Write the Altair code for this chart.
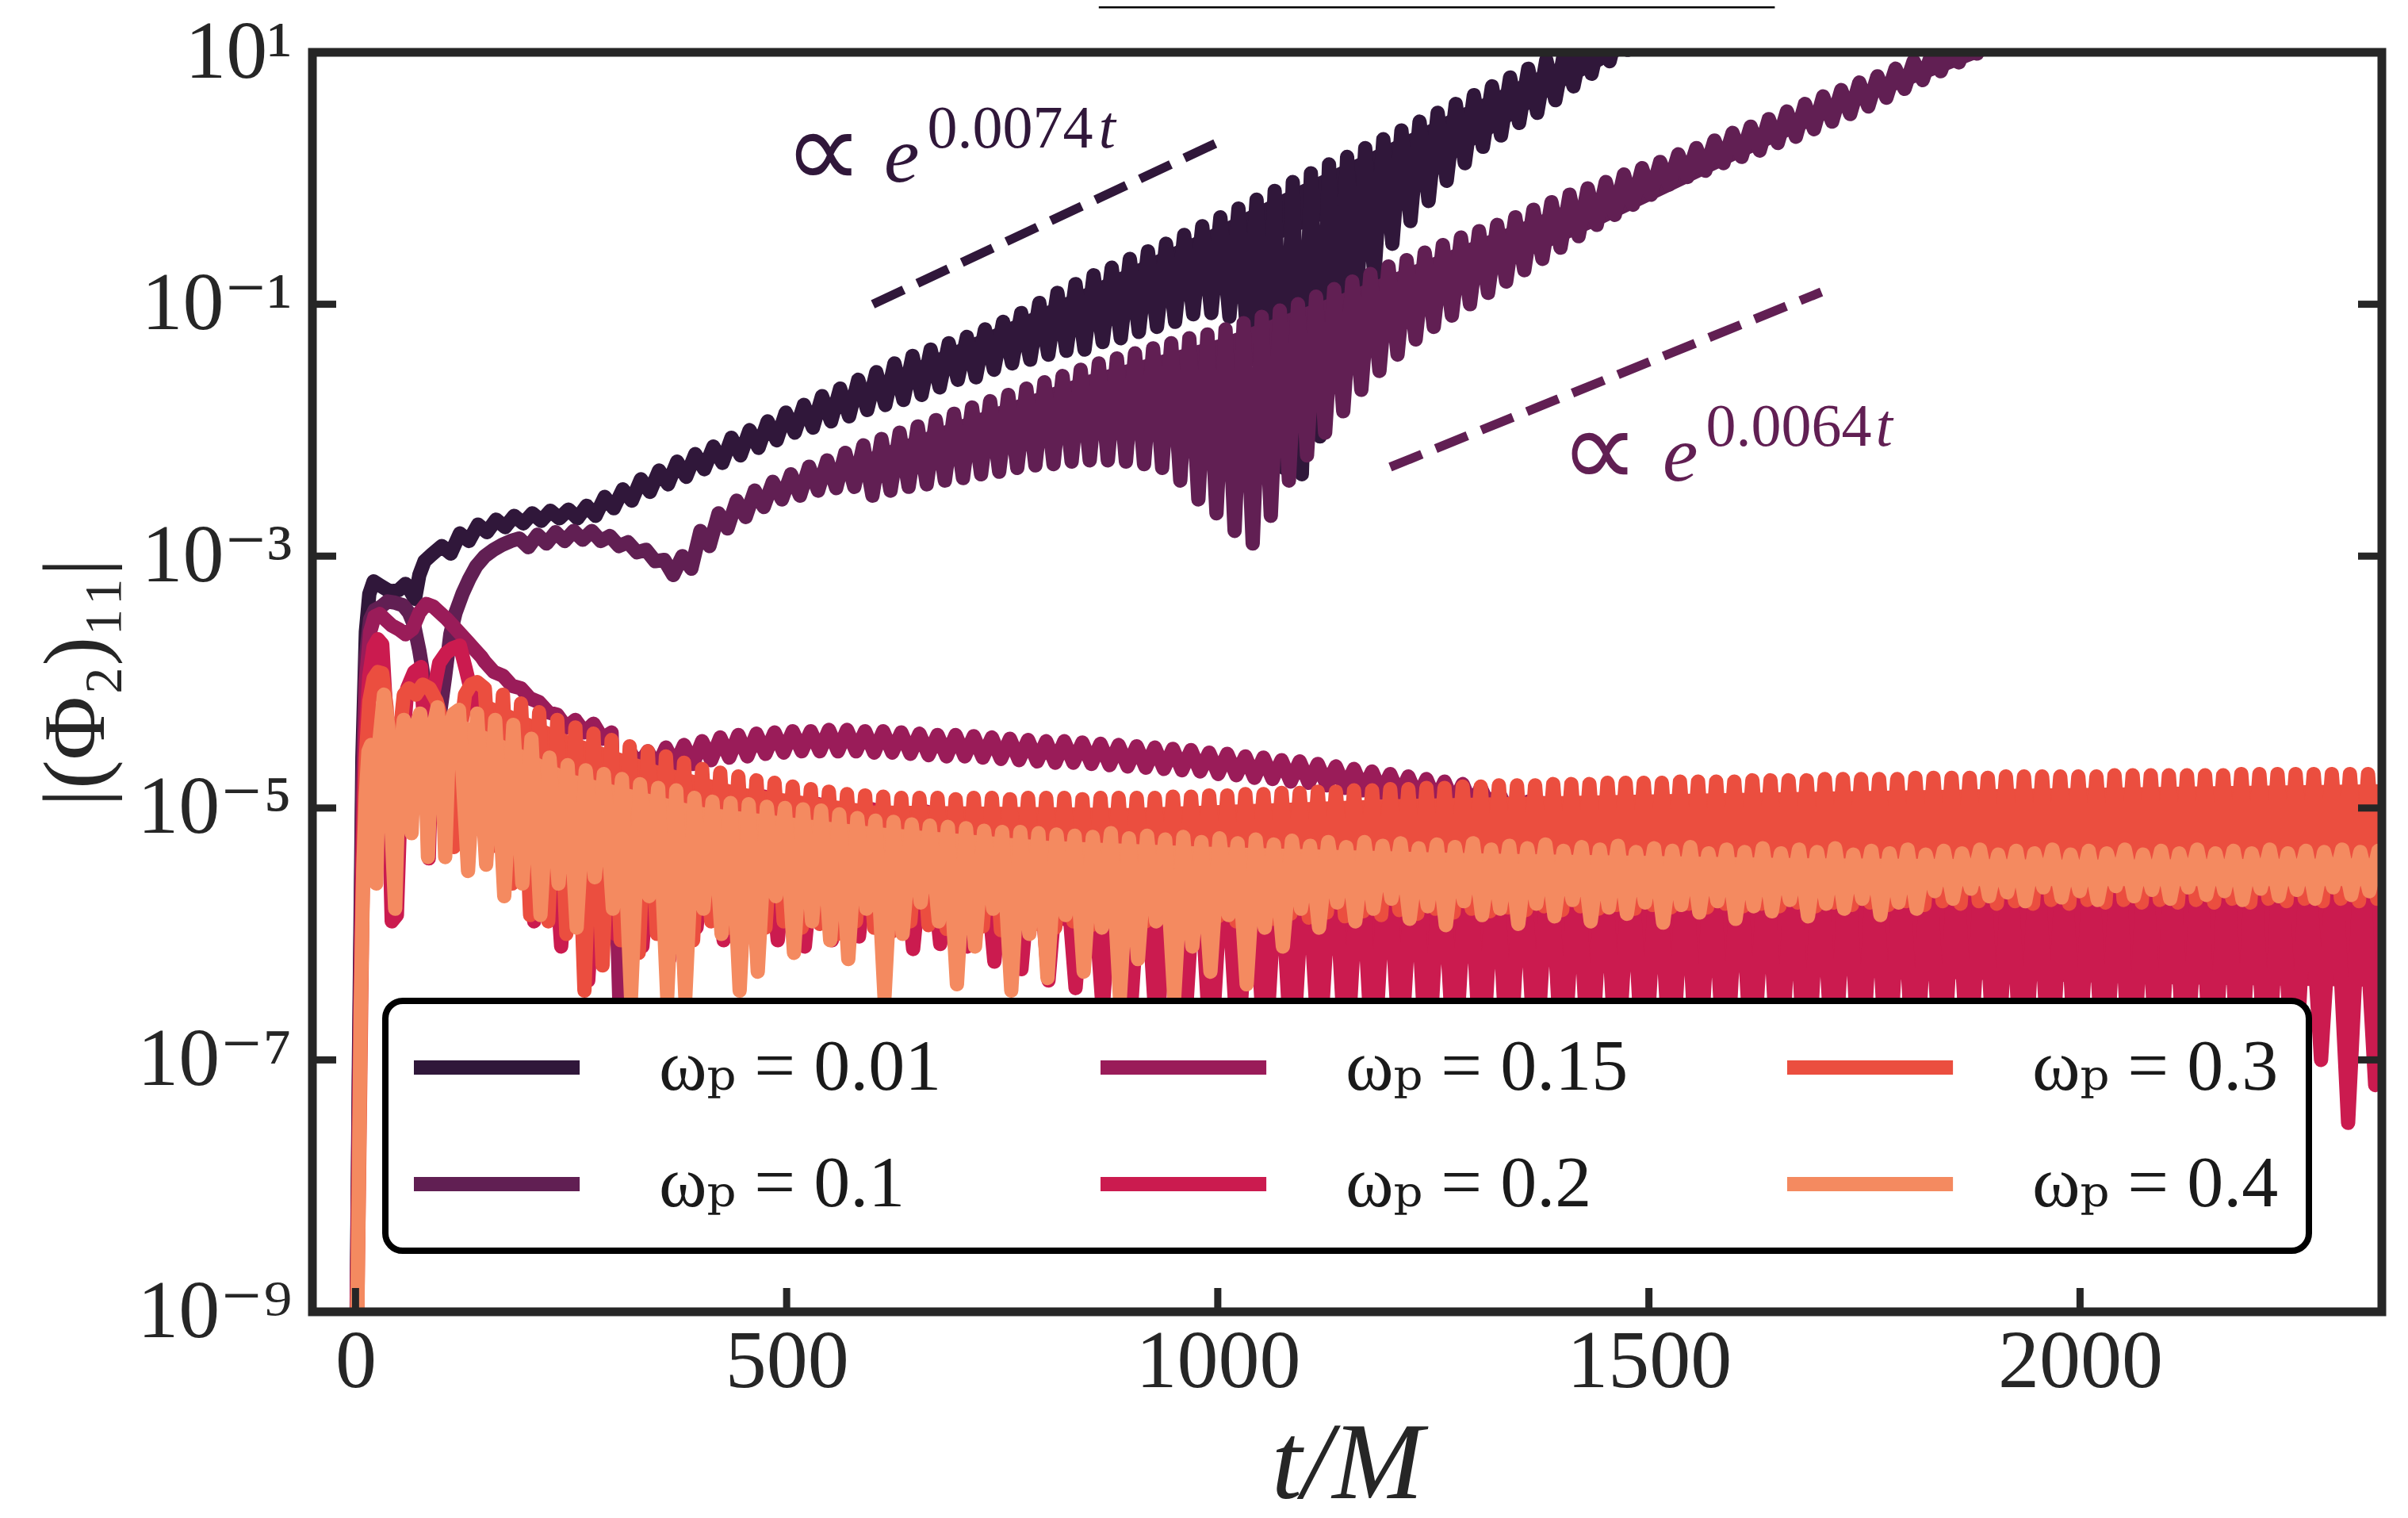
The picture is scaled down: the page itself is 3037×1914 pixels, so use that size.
import math
import altair as alt
import pandas as pd

# ---------------- layout / styling constants ----------------
W, H = 2610, 1588
SERIF = "Liberation Serif, DejaVu Serif, serif"
INK = "#262626"

# ---------------- axes ----------------
X_DOMAIN = [-50, 2350]
Y_DOMAIN = [1e-9, 1e1]
X_TICKS = [0, 500, 1000, 1500, 2000]
Y_TICKS = [1e-9, 1e-7, 1e-5, 1e-3, 1e-1, 1e1]
Y_TICK_LABELS = ["10⁻⁹", "10⁻⁷", "10⁻⁵", "10⁻³", "10⁻¹", "10¹"]
X_TITLE = "t/M"
Y_TITLE = "|(Φ₂)₁₁|"

# ---------------- series ----------------
SERIES = ["ωₚ = 0.01", "ωₚ = 0.1", "ωₚ = 0.15", "ωₚ = 0.2", "ωₚ = 0.3", "ωₚ = 0.4"]
COLORS = ["#30173a", "#611f53", "#9a1c59", "#cb1b4f", "#eb4e3f", "#f48a60"]

# values are log10 |(Phi_2)_11|
# --- omega_p = 0.01 ---
S1_EARLY_T = [0, 4, 8, 12, 16, 21, 30, 40, 50, 58, 64, 69, 74, 80, 88]
S1_EARLY_V = [-10.0, -7.0, -4.6, -3.6, -3.3, -3.2, -3.24, -3.28, -3.27, -3.22, -3.28, -3.34, -3.15, -3.04, -2.99]
S1_T0, S1_P = 100, 21.0
S1_HI = [-2.92, -2.82, -2.75, -2.71, -2.68, -2.66, -2.64, -2.63, -2.60, -2.53,
         -2.47, -2.39, -2.32, -2.25, -2.19, -2.13, -2.06, -2.00, -1.93, -1.86,
         -1.80, -1.73, -1.67, -1.60, -1.54, -1.47, -1.41, -1.36, -1.31, -1.26,
         -1.20, -1.14, -1.07, -0.99, -0.91, -0.84, -0.77, -0.71, -0.64, -0.58,
         -0.52, -0.45, -0.38, -0.31, -0.24, -0.17, -0.10, -0.03, 0.04, 0.11,
         0.17, 0.24, 0.31, 0.38, 0.45, 0.52, 0.59, 0.66, 0.73, 0.80,
         0.87, 0.94, 1.01, 1.08, 1.15, 1.22, 1.29]
S1_LO = [-2.98, -2.88, -2.81, -2.77, -2.74, -2.72, -2.70, -2.70, -2.68, -2.62,
         -2.56, -2.49, -2.43, -2.37, -2.31, -2.26, -2.20, -2.14, -2.08, -2.02,
         -1.98, -1.93, -1.89, -1.84, -1.80, -1.76, -1.72, -1.66, -1.60, -1.58,
         -1.52, -1.47, -1.44, -1.40, -1.37, -1.36, -1.30, -1.27, -1.22, -1.18,
         -1.14, -1.08, -1.07, -1.10, -1.30, -1.70, -2.30, -2.35, -2.05, -1.55,
         -1.05, -0.78, -0.52, -0.34, -0.18, -0.02, 0.12, 0.25, 0.34, 0.44,
         0.52, 0.62, 0.73, 0.83, 0.93, 1.02, 1.11]
BODY1_T = [650, 800, 900, 1000, 1100, 1200, 1300, 1400, 1500]
BODY1_TOP = [-1.46, -1.02, -0.70, -0.38, -0.04, 0.28, 0.61, 0.94, 1.28]
BODY1_BOT = [-1.46, -1.30, -1.00, -0.70, -0.40, -0.10, 0.27, 0.72, 1.10]

# --- omega_p = 0.1 ---
S2_EARLY_T = [0, 4, 8, 12, 17, 22, 30, 37, 46, 55, 62, 68, 74, 80, 86, 92, 98, 104,
              110, 116, 124, 132, 140, 150, 160, 170, 180]
S2_EARLY_V = [-10.0, -7.2, -4.9, -3.8, -3.5, -3.43, -3.40, -3.36, -3.37, -3.39, -3.45, -3.55,
              -3.75, -4.0, -4.2, -4.33, -4.25, -3.95, -3.62, -3.45, -3.30, -3.18, -3.08,
              -3.0, -2.95, -2.91, -2.88]
S2_T0, S2_P = 190, 21.0
S2_HI = [-2.86, -2.83, -2.81, -2.80, -2.80, -2.84, -2.89, -2.95, -3.03, -3.00,
         -2.80, -2.66, -2.56, -2.48, -2.41, -2.35, -2.29, -2.24, -2.18, -2.12,
         -2.07, -2.02, -1.97, -1.92, -1.87, -1.82, -1.77, -1.72, -1.67, -1.62,
         -1.57, -1.52, -1.47, -1.43, -1.39, -1.35, -1.31, -1.27, -1.24, -1.20,
         -1.15, -1.10, -1.05, -1.00, -0.94, -0.88, -0.82, -0.76, -0.70, -0.65,
         -0.59, -0.53, -0.47, -0.42, -0.37, -0.31, -0.25, -0.19, -0.13, -0.08,
         -0.03, 0.03, 0.08, 0.13, 0.19, 0.24, 0.30, 0.36, 0.41, 0.47,
         0.53, 0.59, 0.65, 0.70, 0.76, 0.81, 0.87, 0.93, 0.99, 1.05,
         1.11, 1.17]
S2_LO = [-2.93, -2.90, -2.88, -2.87, -2.88, -2.92, -2.97, -3.04, -3.15, -3.10,
         -2.92, -2.78, -2.69, -2.61, -2.55, -2.52, -2.48, -2.46, -2.45, -2.52,
         -2.48, -2.45, -2.43, -2.40, -2.38, -2.35, -2.33, -2.30, -2.28, -2.27,
         -2.25, -2.24, -2.24, -2.25, -2.27, -2.30, -2.40, -2.55, -2.66, -2.80,
         -2.90, -2.68, -2.40, -2.20, -2.02, -1.85, -1.68, -1.53, -1.40, -1.28,
         -1.18, -1.09, -1.00, -0.91, -0.82, -0.73, -0.64, -0.55, -0.46, -0.37,
         -0.29, -0.21, -0.13, -0.05, 0.01, 0.06, 0.12, 0.17, 0.22, 0.28,
         0.33, 0.39, 0.45, 0.51, 0.57, 0.64, 0.71, 0.78, 0.85, 0.92,
         0.99, 1.06]
BODY2_T = [550, 700, 850, 1000, 1150, 1300, 1450, 1600, 1750, 1900]
BODY2_TOP = [-2.29, -1.92, -1.56, -1.28, -0.90, -0.49, -0.09, 0.31, 0.72, 1.13]
BODY2_BOT = [-2.29, -2.15, -1.85, -1.60, -1.20, -0.80, -0.35, 0.14, 0.60, 1.00]

# --- omega_p = 0.15 ---
S3_EARLY_T = [0, 4, 8, 12, 17, 22, 28, 34, 42, 50, 58, 66, 74, 82, 90, 98, 106, 114, 122, 130, 138, 146]
S3_EARLY_V = [-10.0, -7.5, -5.2, -4.0, -3.6, -3.48, -3.46, -3.50, -3.55, -3.58, -3.62, -3.58,
              -3.45, -3.38, -3.40, -3.45, -3.50, -3.56, -3.62, -3.68, -3.74, -3.80]
S3_T0, S3_P = 150, 21.0
S3_HI = [-3.84, -3.95, -4.05, -4.16, -4.26, -4.30, -4.33, -4.40, -4.55, -4.55,
         -4.52, -4.50, -4.47, -4.44, -4.42, -4.41, -4.40, -4.39, -4.39, -4.38,
         -4.38, -4.39, -4.39, -4.40, -4.41, -4.42, -4.42, -4.43, -4.44, -4.45,
         -4.46, -4.47, -4.47, -4.48, -4.49, -4.50, -4.51, -4.52, -4.53, -4.54,
         -4.56, -4.57, -4.59, -4.60, -4.62, -4.63, -4.65, -4.67, -4.69, -4.71,
         -4.73, -4.75, -4.77, -4.79, -4.81, -4.84, -4.88]
S3_LO = [-3.92, -4.03, -4.13, -4.24, -4.36, -4.40, -4.45, -6.90, -4.66, -4.68,
         -4.66, -4.65, -4.62, -4.60, -4.59, -4.57, -4.56, -4.55, -4.55, -4.55,
         -4.55, -4.56, -4.56, -4.57, -4.58, -4.59, -4.59, -4.60, -4.61, -4.62,
         -4.63, -4.64, -4.64, -4.65, -4.66, -4.67, -4.68, -4.69, -4.70, -4.71,
         -4.73, -4.74, -4.76, -4.77, -4.79, -4.80, -4.82, -4.84, -4.86, -4.88,
         -4.90, -4.92, -4.94, -4.96, -4.98, -5.00, -5.03]
S3_TAIL_T = [1360, 1600, 2000, 2350]
S3_TAIL_V = [-4.95, -5.10, -5.20, -5.25]

# --- omega_p = 0.2 ---
S4_EARLY_T = [0, 4, 8, 12, 16, 21, 26, 31, 36, 42, 48, 54, 60, 68, 76, 81, 85, 90, 97,
              105, 113, 121, 128, 135, 142, 148, 153]
S4_EARLY_V = [-10.0, -7.6, -5.4, -4.4, -3.95, -3.72, -3.66, -3.70, -4.3, -5.9, -5.85, -4.6,
              -4.05, -3.92, -3.88, -4.6, -5.4, -4.1, -3.85, -3.77, -3.73, -3.71, -3.9, -4.1,
              -4.3, -4.9, -5.17]
S4_T0, S4_P = 160, 31.4
S4_HI = [-4.30, -4.40, -4.50, -4.58, -4.64, -4.70, -4.75, -4.80, -4.84, -4.88,
         -4.91, -4.94, -4.97, -5.00, -5.01, -5.02, -5.03, -5.04, -5.05, -5.06,
         -5.07, -5.08, -5.09, -5.10, -5.11, -5.12, -5.13, -5.14, -5.15, -5.16,
         -5.17, -5.18, -5.19, -5.20, -5.21, -5.22, -5.23, -5.24, -5.25, -5.26,
         -5.27, -5.28, -5.29, -5.30, -5.30, -5.30, -5.30, -5.30, -5.30, -5.30,
         -5.30, -5.30, -5.30, -5.30, -5.30, -5.30, -5.30, -5.30, -5.30, -5.30,
         -5.30, -5.30, -5.30, -5.30, -5.30, -5.30, -5.30, -5.30, -5.30, -5.30,
         -5.30]
S4_LO = [-5.60, -5.90, -6.10, -6.37, -6.00, -6.10, -6.20, -5.95, -6.05, -6.00,
         -6.05, -6.10, -6.05, -6.02, -6.05, -6.12, -6.08, -6.10, -6.22, -6.28,
         -6.37, -6.43, -6.60, -6.75, -6.85, -6.90, -7.00, -6.95, -7.05, -7.10,
         -7.00, -7.10, -7.15, -7.05, -7.20, -7.10, -7.15, -7.25, -7.10, -7.20,
         -7.30, -7.15, -7.25, -7.20, -7.30, -7.25, -7.15, -7.30, -7.35, -7.20,
         -7.30, -7.25, -7.35, -7.30, -7.20, -7.35, -7.40, -7.25, -7.35, -7.30,
         -7.40, -7.35, -7.25, -7.40, -7.30, -7.35, -7.40, -7.00, -7.50, -7.20,
         -7.30]
BODY4_T = [160, 300, 450, 600, 750, 900, 1200, 1500, 1800, 2100, 2350]
BODY4_TOP = [-4.35, -4.68, -4.88, -5.02, -5.07, -5.12, -5.20, -5.28, -5.30, -5.30, -5.30]
BODY4_BOT = [-4.80, -5.30, -5.60, -5.80, -5.88, -6.00, -6.15, -6.28, -6.35, -6.40, -6.42]

# --- omega_p = 0.3 ---
S5_EARLY_T = [0, 4, 8, 12, 16, 21, 26, 31, 36, 41, 45, 50, 56, 62, 70, 78, 86, 94, 102,
              108, 114, 120, 127, 134, 141]
S5_EARLY_V = [-10.0, -8.0, -5.8, -4.6, -4.15, -3.97, -3.92, -3.93, -4.2, -4.9, -5.28, -4.5,
              -4.1, -4.05, -4.10, -4.02, -4.05, -4.15, -4.35, -4.8, -5.31, -4.5, -4.10,
              -4.02, -4.0]
S5_T0, S5_P = 150, 21.0
S5_HI = [-4.05, -4.10, -4.17, -4.24, -4.30, -4.36, -4.41, -4.46, -4.51, -4.55,
         -4.59, -4.64, -4.69, -4.72, -4.75, -4.78, -4.80, -4.83, -4.85, -4.87,
         -4.89, -4.90, -4.91, -4.92, -4.92, -4.92, -4.93, -4.92, -4.92, -4.93,
         -4.92, -4.92, -4.92, -4.93, -4.92, -4.92, -4.92, -4.92, -4.91, -4.91,
         -4.90, -4.90, -4.89, -4.89, -4.88, -4.88, -4.87, -4.87, -4.86, -4.86,
         -4.85, -4.85, -4.84, -4.84, -4.83, -4.83, -4.82, -4.82, -4.82, -4.81,
         -4.81, -4.81, -4.80, -4.80, -4.80, -4.80, -4.79, -4.79, -4.79, -4.79,
         -4.78, -4.78, -4.78, -4.78, -4.77, -4.77, -4.77, -4.77, -4.77, -4.76,
         -4.76, -4.76, -4.76, -4.76, -4.75, -4.75, -4.75, -4.75, -4.75, -4.75,
         -4.74, -4.74, -4.74, -4.74, -4.74, -4.74, -4.74, -4.73, -4.73, -4.73,
         -4.73, -4.73, -4.73, -4.73, -4.73]
S5_LO = [-5.30, -5.60, -5.85, -5.90, -6.00, -6.45, -6.25, -6.05, -6.15, -6.00,
         -5.95, -6.05, -5.90, -5.95, -6.00, -5.95, -5.90, -5.95, -5.92, -6.00,
         -5.90, -5.95, -5.98, -5.90, -5.93, -5.96, -5.90, -5.94, -5.97, -5.90,
         -5.92, -5.95, -5.90, -5.93, -5.88, -5.92, -5.90, -5.87, -5.91, -5.88,
         -5.86, -5.90, -5.85, -5.88, -5.84, -5.87, -5.83, -5.86, -5.82, -5.85,
         -5.81, -5.84, -5.80, -5.83, -5.80, -5.82, -5.79, -5.81, -5.78, -5.81,
         -5.78, -5.80, -5.77, -5.80, -5.77, -5.79, -5.76, -5.79, -5.76, -5.78,
         -5.76, -5.78, -5.75, -5.78, -5.75, -5.77, -5.75, -5.77, -5.74, -5.77,
         -5.74, -5.76, -5.74, -5.76, -5.74, -5.76, -5.73, -5.76, -5.73, -5.75,
         -5.73, -5.75, -5.73, -5.75, -5.73, -5.75, -5.72, -5.75, -5.72, -5.74,
         -5.72, -5.74, -5.72, -5.74, -5.72]
BODY5_T = [150, 250, 350, 450, 600, 900, 1200, 1600, 2000, 2350]
BODY5_TOP = [-4.13, -4.43, -4.66, -4.84, -4.98, -5.00, -4.93, -4.88, -4.84, -4.81]
BODY5_BOT = [-4.50, -5.00, -5.30, -5.45, -5.60, -5.60, -5.60, -5.60, -5.60, -5.60]

# --- omega_p = 0.4 ---
S6_EARLY_T = [0, 3, 6, 9, 12, 15, 18, 21, 24, 28, 33, 38, 42, 46, 51, 56, 61, 65, 70, 75,
              80, 84, 89, 95, 100, 104, 109, 114]
S6_EARLY_V = [-10.5, -8.5, -6.6, -5.5, -4.9, -4.55, -4.5, -4.75, -5.6, -4.45, -4.10, -4.35,
              -5.2, -5.80, -4.6, -4.30, -4.45, -5.2, -4.35, -4.25, -4.5, -5.39, -4.4, -4.2,
              -4.6, -5.39, -4.35, -4.25]
S6_T0, S6_P = 120, 21.0
S6_HI = [-4.22, -4.25, -4.30, -4.34, -4.45, -4.60, -4.66, -4.70, -4.73, -4.77,
         -4.81, -4.84, -4.86, -4.92, -4.95, -4.96, -4.97, -4.99, -5.00, -5.01,
         -5.02, -5.05, -5.08, -5.10, -5.11, -5.13, -5.14, -5.15, -5.16, -5.18,
         -5.19, -5.19, -5.20, -5.21, -5.22, -5.23, -5.20, -5.24, -5.22, -5.25,
         -5.23, -5.27, -5.24, -5.28, -5.25, -5.29, -5.26, -5.30, -5.27, -5.31,
         -5.27, -5.30, -5.28, -5.32, -5.29, -5.31, -5.28, -5.33, -5.30, -5.32,
         -5.29, -5.34, -5.31, -5.33, -5.30, -5.35, -5.32, -5.34, -5.31, -5.36,
         -5.33, -5.35, -5.32, -5.36, -5.33, -5.35, -5.32, -5.37, -5.34, -5.36,
         -5.33, -5.37, -5.34, -5.36, -5.33, -5.37, -5.34, -5.36, -5.33, -5.37,
         -5.34, -5.36, -5.33, -5.37, -5.34, -5.36, -5.33, -5.36, -5.34, -5.36,
         -5.33, -5.36, -5.34, -5.35, -5.33, -5.35, -5.34]
S6_LO = [-5.50, -5.45, -5.70, -5.60, -5.85, -5.60, -5.95, -5.55, -5.80, -6.50,
         -5.70, -6.50, -6.50, -5.80, -6.00, -6.45, -6.30, -5.70, -6.15, -5.90,
         -6.05, -6.20, -5.80, -6.50, -6.00, -5.75, -5.90, -6.40, -6.10, -5.80,
         -6.45, -6.00, -6.35, -5.85, -6.30, -5.95, -6.50, -6.20, -5.90, -6.50,
         -6.10, -6.30, -5.85, -6.40, -5.95, -6.10, -5.80, -5.95, -5.75, -5.90,
         -5.80, -5.72, -5.88, -5.78, -5.93, -5.74, -5.85, -5.80, -5.92, -5.76,
         -5.86, -5.73, -5.90, -5.79, -5.84, -5.75, -5.91, -5.77, -5.83, -5.74,
         -5.88, -5.78, -5.82, -5.73, -5.86, -5.76, -5.80, -5.72, -5.85, -5.75,
         -5.80, -5.66, -5.72, -5.64, -5.70, -5.67, -5.74, -5.63, -5.71, -5.66,
         -5.73, -5.62, -5.70, -5.65, -5.72, -5.63, -5.69, -5.66, -5.73, -5.64,
         -5.70, -5.65, -5.72, -5.63, -5.69, -5.66, -5.71]
BODY6_T = [120, 250, 400, 600, 800, 1000, 1300, 1700, 2000, 2350]
BODY6_TOP = [-4.28, -4.73, -4.99, -5.15, -5.26, -5.31, -5.36, -5.40, -5.41, -5.40]
BODY6_BOT = [-4.60, -5.10, -5.35, -5.45, -5.55, -5.58, -5.62, -5.62, -5.62, -5.62]

# --- guide lines  ∝ e^{0.0074 t} and ∝ e^{0.0064 t} ---
GUIDE1_T = [600, 1000]
GUIDE1_V = [-1.0, 0.285]
GUIDE2_T = [1200, 1700]
GUIDE2_V = [-2.293, -0.903]

# --- annotation text (t position, log10 baseline) ---
ANN_TEXT = ["∝", "e", "0.0074", "t", "∝", "e", "0.0064", "t"]
ANN_T = [497, 613, 663, 862, 1397, 1516, 1566, 1763]
ANN_V = [-0.075, -0.026, 0.244, 0.244, -2.45, -2.40, -2.123, -2.123]
ANN_COLOR = [0, 0, 0, 0, 1, 1, 1, 1]
ANN_SIZE = [140, 100, 76, 76, 140, 100, 76, 76]
ANN_ITALIC = [False, True, False, True, False, True, False, True]
ANN_FONT = ["DejaVu Sans", SERIF, SERIF, SERIF, "DejaVu Sans", SERIF, SERIF, SERIF]

# thin line at the very top of the figure
TOPLINE_T = [862, 1646]


# ---------------- helpers ----------------
def zigzag(t0, period, hi, lo):
    ts, vs = [], []
    for i, (h, l) in enumerate(zip(hi, lo)):
        ts += [t0 + i * period, t0 + (i + 0.5) * period]
        vs += [h, l]
    return ts, vs


def series_frame(k, early_t, early_v, t0, p, hi, lo, tail_t=(), tail_v=()):
    zt, zv = zigzag(t0, p, hi, lo)
    ts = list(early_t) + zt + list(tail_t)
    vs = list(early_v) + zv + list(tail_v)
    return pd.DataFrame({"t": ts, "v": [10.0 ** x for x in vs],
                         "series": SERIES[k], "idx": list(range(len(ts)))})


def body_frame(bt, top, bot):
    return pd.DataFrame({"t": bt, "v": [10.0 ** x for x in top], "v2": [10.0 ** x for x in bot]})


label_expr = ""
for val, lab in zip(Y_TICKS, Y_TICK_LABELS):
    e = round(math.log10(val))
    label_expr += f"abs(log(datum.value)/LN10 - ({e})) < 0.01 ? '{lab}' : "
label_expr += "''"

x_scale = alt.Scale(domain=X_DOMAIN, nice=False, zero=False)
y_scale = alt.Scale(type="log", domain=Y_DOMAIN, nice=False)

x_axis = alt.Axis(values=X_TICKS, domain=False, ticks=False, tickSize=0, grid=False,
                  labelFont=SERIF, labelFontSize=104, labelColor=INK, labelPadding=12,
                  labelFlush=False, labelOverlap=False, labelLimit=2000, format="d",
                  title=X_TITLE, titleFont=SERIF, titleFontSize=138, titleFontStyle="italic",
                  titleFontWeight="normal", titleColor=INK, titleBaseline="alphabetic",
                  titleAlign="center", titleX=W / 2, titleY=234, titleLimit=2000)
y_axis = alt.Axis(values=Y_TICKS, domain=False, ticks=False, tickSize=0, grid=False,
                  labelExpr=label_expr, labelFont=SERIF, labelFontSize=104, labelColor=INK,
                  labelPadding=26, labelOverlap=False, labelFlush=False, labelLimit=2000,
                  title=Y_TITLE, titleFont=SERIF, titleFontSize=110, titleFontWeight="normal",
                  titleColor=INK, titleAngle=270, titleBaseline="middle", titleAlign="center",
                  titleX=-297, titleY=H / 2, titleLimit=2000)

x_enc = alt.X("t:Q", scale=x_scale, axis=x_axis)
y_enc = alt.Y("v:Q", scale=y_scale, axis=y_axis)

# legend sample line: custom path drawn to the right of the symbol slot
SYMBOL_PATH = "M-1.6,0H5.37"
legend = alt.Legend(title=None, orient="none", legendX=92, legendY=1196, columns=3,
                    symbolType=SYMBOL_PATH, symbolSize=3600, symbolStrokeWidth=18,
                    labelFont=SERIF, labelFontSize=92, labelColor="#1a1a1a",
                    labelOffset=215, labelLimit=3000, columnPadding=164, rowPadding=55,
                    padding=38, strokeColor="#000000", cornerRadius=22, fillColor="#ffffff",
                    zindex=1)
color_enc = alt.Color("series:N", scale=alt.Scale(domain=SERIES, range=COLORS), legend=legend)

frames = [
    series_frame(0, S1_EARLY_T, S1_EARLY_V, S1_T0, S1_P, S1_HI, S1_LO),
    series_frame(1, S2_EARLY_T, S2_EARLY_V, S2_T0, S2_P, S2_HI, S2_LO),
    series_frame(2, S3_EARLY_T, S3_EARLY_V, S3_T0, S3_P, S3_HI, S3_LO, S3_TAIL_T, S3_TAIL_V),
    series_frame(3, S4_EARLY_T, S4_EARLY_V, S4_T0, S4_P, S4_HI, S4_LO),
    series_frame(4, S5_EARLY_T, S5_EARLY_V, S5_T0, S5_P, S5_HI, S5_LO),
    series_frame(5, S6_EARLY_T, S6_EARLY_V, S6_T0, S6_P, S6_HI, S6_LO),
]
bodies = {
    0: body_frame(BODY1_T, BODY1_TOP, BODY1_BOT),
    1: body_frame(BODY2_T, BODY2_TOP, BODY2_BOT),
    3: body_frame(BODY4_T, BODY4_TOP, BODY4_BOT),
    4: body_frame(BODY5_T, BODY5_TOP, BODY5_BOT),
    5: body_frame(BODY6_T, BODY6_TOP, BODY6_BOT),
}

layers = []
for k in range(6):
    if k in bodies:
        layers.append(alt.Chart(bodies[k]).mark_area(clip=True, color=COLORS[k], opacity=1)
                      .encode(x=x_enc, y=y_enc, y2=alt.Y2("v2:Q")))
    layers.append(alt.Chart(frames[k]).mark_line(strokeWidth=18, clip=True, strokeJoin="round",
                                                 strokeCap="round")
                  .encode(x=x_enc, y=y_enc, color=color_enc, order="idx:Q"))

for gt, gv, col in [(GUIDE1_T, GUIDE1_V, COLORS[0]), (GUIDE2_T, GUIDE2_V, COLORS[1])]:
    gdf = pd.DataFrame({"t": gt, "v": [10.0 ** x for x in gv]})
    layers.append(alt.Chart(gdf).mark_line(strokeWidth=11.5, strokeDash=[43, 19], color=col,
                                           clip=True)
                  .encode(x=x_enc, y=y_enc))

for txt, tt, tv, ci, fs, it, fnt in zip(ANN_TEXT, ANN_T, ANN_V, ANN_COLOR, ANN_SIZE,
                                        ANN_ITALIC, ANN_FONT):
    adf = pd.DataFrame({"t": [tt], "v": [10.0 ** tv], "label": [txt]})
    kw = dict(font=fnt, fontSize=fs, align="left", baseline="alphabetic", color=COLORS[ci])
    if it:
        kw["fontStyle"] = "italic"
    layers.append(alt.Chart(adf).mark_text(**kw).encode(x=x_enc, y=y_enc, text="label:N"))

ytick_df = pd.DataFrame({"v": Y_TICKS})
xtick_df = pd.DataFrame({"t": X_TICKS})
layers.append(alt.Chart(ytick_df).mark_rule(strokeWidth=9, color=INK)
              .encode(y=y_enc, x=alt.value(0), x2=alt.value(30)))
layers.append(alt.Chart(ytick_df).mark_rule(strokeWidth=9, color=INK)
              .encode(y=y_enc, x=alt.value(W - 30), x2=alt.value(W)))
layers.append(alt.Chart(xtick_df).mark_rule(strokeWidth=9, color=INK)
              .encode(x=x_enc, y=alt.value(H - 30), y2=alt.value(H)))

frame_df = pd.DataFrame({"a": [0]})
layers.append(alt.Chart(frame_df).mark_rect(fillOpacity=0, stroke=INK, strokeWidth=11)
              .encode(x=alt.value(0), x2=alt.value(W), y=alt.value(0), y2=alt.value(H)))

top_df = pd.DataFrame({"t": [TOPLINE_T[0]], "t2": [TOPLINE_T[1]]})
layers.append(alt.Chart(top_df).mark_rule(strokeWidth=3, color="#000000")
              .encode(x=x_enc, x2=alt.X2("t2:Q"), y=alt.value(-57)))

chart = (alt.layer(*layers)
         .properties(width=W, height=H, autosize=alt.AutoSizeParams(type="none"),
                     padding={"left": 386, "top": 58, "right": 23, "bottom": 248},
                     background="#ffffff")
         .configure_view(stroke=None)
         .configure_legend(strokeWidth=8))

chart.save("out.html", embed_options={"renderer": "svg", "actions": False})
